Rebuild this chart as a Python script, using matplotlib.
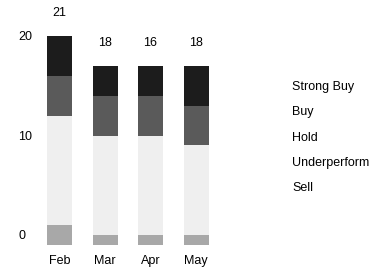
import numpy as np
import matplotlib.pyplot as plt
from matplotlib.transforms import ScaledTranslation

# dados
meses = ['Feb', 'Mar', 'Apr', 'May']
strong_buy = [4, 3, 3, 4]
buy = [4, 4, 4, 4]
hold = [11, 10, 10, 9]
underperform = [2, 1, 1, 1]
sell = [0, 0, 0, 0]
totais = ['21', '18', '16', '18']

series = ['Sell', 'Underperform', 'Hold', 'Buy', 'Strong Buy']
valores = [sell, underperform, hold, buy, strong_buy]
cores = ['#8c8c8c', '#a8a8a8', '#efefef', '#5a5a5a', '#1c1c1c']

plt.rcParams['font.family'] = ['Liberation Sans', 'DejaVu Sans']

fig = plt.figure(figsize=(3.83, 2.72), dpi=100)
ax = fig.add_axes([0.096, 0.0993, 0.4752, 0.878])

x = np.arange(len(meses))
base = np.zeros(len(meses))
for nome, v, c in zip(series, valores, cores):
    ax.bar(x, v, width=0.55, bottom=base, color=c, label=nome)
    base += np.array(v)

for xi, topo, t in zip(x, base, totais):
    ax.annotate(t, (xi, topo), xytext=(0, 16.5), textcoords='offset points',
                ha='center', va='center', fontsize=9)

ax.set_xlim(-0.5, 3.5)
ax.set_ylim(0, 24)
ax.set_xticks(x)
ax.set_xticklabels(meses, fontsize=9)
ax.set_yticks([0, 10, 20])
ax.set_yticklabels(['0', '10', '20'], fontsize=9)
ax.tick_params(length=0)
ax.tick_params(axis='x', pad=7)
ax.tick_params(axis='y', pad=13.5)
desloc = ScaledTranslation(0, 0.10, fig.dpi_scale_trans)
for lab in ax.get_yticklabels():
    lab.set_horizontalalignment('left')
    lab.set_transform(lab.get_transform() + desloc)
for s in ax.spines.values():
    s.set_visible(False)

# legenda so com texto, de cima para baixo
for i, nome in enumerate(series[::-1]):
    fig.text(292 / 383, 1 - (87 + i * 25.3) / 272, nome, fontsize=9,
             ha='left', va='center')

fig.savefig('out.png', dpi=100)
